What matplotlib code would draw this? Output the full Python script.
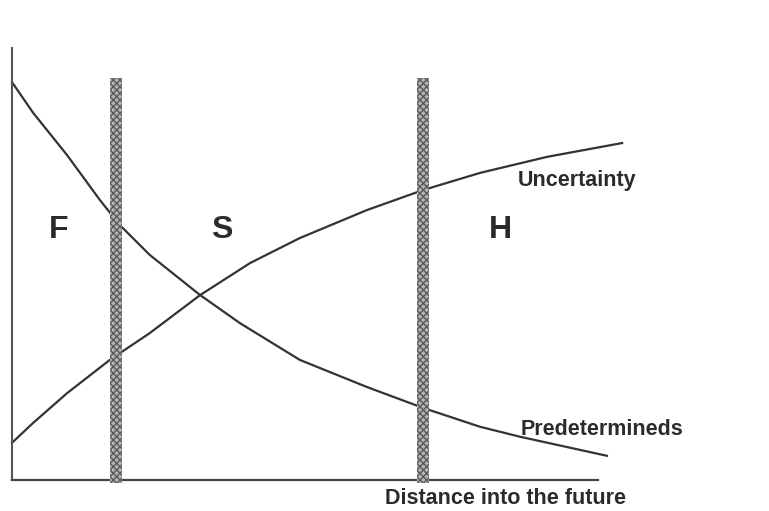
import numpy as np
import matplotlib
matplotlib.use("Agg")
import matplotlib.pyplot as plt

# distance into the future (arbitrary units, axis runs 0..100)
x_pred = [0, 3.6, 9.4, 15.0, 18.4, 23.5, 32.1, 38.9, 49.1, 60.6, 70.1, 79.9, 86.7, 101.5]
predetermineds = [92.1, 85.0, 75.2, 64.8, 59.0, 52.1, 42.8, 36.3, 27.8, 21.5, 16.7, 12.3, 10.0, 5.6]

x_unc = [0, 3.6, 9.4, 16.7, 23.5, 32.1, 40.6, 49.1, 60.6, 70.1, 79.9, 91.3, 104.1]
uncertainty = [8.6, 13.2, 20.1, 27.8, 34.0, 42.8, 50.2, 56.0, 62.5, 67.1, 71.1, 74.8, 78.0]

# horizon boundaries (F | S | H)
boundaries = [17.7, 70.1]
regions = ["F", "S", "H"]
region_x = [8.0, 35.8, 83.4]

plt.rcParams['font.family'] = ['Liberation Sans', 'DejaVu Sans']
txt = "#2b2b2b"

fig = plt.figure(figsize=(7.69, 5.11), dpi=100)
ax = fig.add_axes([0.0156, 0.0607, 0.8765, 0.8454])
ax.set_xlim(0, 115)
ax.set_ylim(0, 100)

ax.plot(x_pred, predetermineds, color="#333333", lw=1.6, clip_on=False,
        solid_joinstyle="round")
ax.plot(x_unc, uncertainty, color="#333333", lw=1.6, clip_on=False,
        solid_joinstyle="round")

for b in boundaries:
    ax.bar(b, 93.7, bottom=-0.7, width=2.1, facecolor="#b4b4b4",
           edgecolor="#5a5a5a", hatch="xxxxx", linewidth=0, zorder=3, clip_on=False)

for name, xr in zip(regions, region_x):
    ax.text(xr, 57.9, name, fontsize=23, fontweight="bold", color=txt,
            ha="center", va="center")

ax.text(86.3, 69.4, "Uncertainty", fontsize=15.5, fontweight="bold", color=txt,
        ha="left", va="center")
ax.text(86.7, 11.8, "Predetermineds", fontsize=15.5, fontweight="bold", color=txt,
        ha="left", va="center")
ax.text(63.6, -4.4, "Distance into the future", fontsize=15.5, fontweight="bold",
        color=txt, ha="left", va="center", clip_on=False)

ax.spines['top'].set_visible(False)
ax.spines['right'].set_visible(False)
ax.spines['left'].set_color("#555555")
ax.spines['bottom'].set_color("#444444")
ax.spines['left'].set_linewidth(1.5)
ax.spines['bottom'].set_linewidth(1.6)
ax.spines['bottom'].set_bounds(0, 100)
ax.set_xticks([])
ax.set_yticks([])

fig.savefig("out.png", dpi=100)
